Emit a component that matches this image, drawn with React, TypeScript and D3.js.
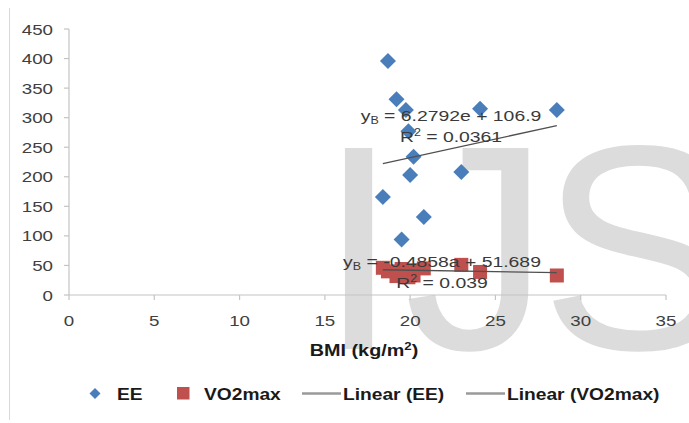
import React from 'react';
import * as d3 from 'd3';

// BMI (kg/m2) per subject, EE and VO2max values
const bmi = [18.7, 19.2, 19.75, 19.9, 20.2, 20.0, 23.0, 18.4, 20.8, 19.5, 24.1, 28.6];
const ee = [396, 331, 313, 277, 234, 203, 208, 166, 132, 94, 315, 313];
const vo2 = [40, 32, 36, 30, 33, 42, 51, 46, 45, 44, 39, 33];

// trend line coefficients as printed on the chart
const eeFit = { slope: 6.2792, intercept: 106.9 };
const vo2Fit = { slope: -0.4858, intercept: 51.689 };

const xTicks = [0, 5, 10, 15, 20, 25, 30, 35];
const yTicks = [0, 50, 100, 150, 200, 250, 300, 350, 400, 450];

const FONT = '"Liberation Sans", Arial, sans-serif';
const BLUE = '#4a7ebb';
const RED = '#c0504d';
const AXIS = '#c4c4c4';

const T = ({ x, y, sx = 1.25, size = 15, anchor = 'start', weight = 'normal', fill = '#404040', children }: any) => (
  <text
    transform={`translate(${x},${y}) scale(${sx},1)`}
    fontFamily={FONT}
    fontSize={size}
    fontWeight={weight}
    textAnchor={anchor}
    fill={fill}
  >
    {children}
  </text>
);

export default function App() {
  const x = d3.scaleLinear().domain([0, 35]).range([69, 666]);
  const y = d3.scaleLinear().domain([0, 450]).range([295, 29]);

  const [xMin, xMax] = d3.extent(bmi) as [number, number];
  const fitLine = (f: { slope: number; intercept: number }) =>
    d3.line<number>().x(d => x(d)).y(d => y(f.slope * d + f.intercept))([xMin, xMax]) || '';

  const diamond = d3.symbol().type(d3.symbolSquare).size(128)() || '';

  return (
    <svg width={689} height={423} style={{ position: 'absolute', left: 0, top: 0, background: '#fff' }}>
      {/* watermark */}
      <g fill="#dcdcdc" fontFamily={FONT} fontSize={292}>
        <text x={318} y={349}>I</text>
        <text x={404} y={349}>J</text>
        <text x={540} y={349}>S</text>
      </g>

      <line x1={9.5} x2={9.5} y1={8} y2={420} stroke="#d9d9d9" strokeWidth={1} />

      {/* axes */}
      <g stroke={AXIS} strokeWidth={1.2}>
        <line x1={x(0)} x2={x(0)} y1={y(450)} y2={y(0)} />
        <line x1={x(0)} x2={x(35)} y1={y(0)} y2={y(0)} />
        {yTicks.map(t => (
          <line key={t} x1={x(0) - 5} x2={x(0)} y1={y(t)} y2={y(t)} />
        ))}
        {xTicks.map(t => (
          <line key={t} x1={x(t)} x2={x(t)} y1={y(0)} y2={y(0) + 5} />
        ))}
      </g>
      {yTicks.map(t => (
        <T key={t} x={53} y={y(t) + 5.5} anchor="end">{t}</T>
      ))}
      {xTicks.map(t => (
        <T key={t} x={x(t)} y={326} anchor="middle">{t}</T>
      ))}
      <T x={364} y={356} anchor="middle" weight="bold" size={16.5} sx={1.2} fill="#1a1a1a">
        BMI (kg/m<tspan fontSize={11} dy={-6}>2</tspan><tspan dy={6}>)</tspan>
      </T>

      {/* points */}
      {bmi.map((b, i) => (
        <path key={'e' + i} d={diamond} transform={`translate(${x(b)},${y(ee[i])}) rotate(45)`} fill={BLUE} />
      ))}
      {bmi.map((b, i) => (
        <rect key={'v' + i} x={x(b) - 7} y={y(vo2[i]) - 7} width={14} height={14} fill={RED} />
      ))}

      {/* trend lines */}
      <path d={fitLine(eeFit)} stroke="#505050" strokeWidth={1.3} fill="none" />
      <path d={fitLine(vo2Fit)} stroke="#505050" strokeWidth={1.3} fill="none" />

      {/* equation labels */}
      <T x={451} y={121} anchor="middle" fill="#3a3a3a" size={15.5}>
        y<tspan fontSize={10} dy={3}>B</tspan><tspan dy={-3}> = 6.2792e + 106.9</tspan>
      </T>
      <T x={451} y={142} anchor="middle" fill="#3a3a3a" size={15.5}>
        R<tspan fontSize={10} dy={-6}>2</tspan><tspan dy={6}> = 0.0361</tspan>
      </T>
      <T x={442} y={267} anchor="middle" fill="#3a3a3a" size={15.5}>
        y<tspan fontSize={10} dy={3}>B</tspan><tspan dy={-3}> = -0.4858a + 51.689</tspan>
      </T>
      <T x={442} y={288} anchor="middle" fill="#3a3a3a" size={15.5}>
        R<tspan fontSize={10} dy={-6}>2</tspan><tspan dy={6}> = 0.039</tspan>
      </T>

      {/* legend */}
      <path d={d3.symbol().type(d3.symbolSquare).size(60)() || ''} transform="translate(95,393.5) rotate(45)" fill={BLUE} />
      <T x={117} y={399.5} weight="bold" size={16} sx={1.2} fill="#1a1a1a">EE</T>
      <rect x={177} y={387} width={12.5} height={12.5} fill={RED} />
      <T x={204} y={399.5} weight="bold" size={16} sx={1.2} fill="#1a1a1a">VO2max</T>
      <line x1={302} x2={341} y1={393.5} y2={393.5} stroke="#9a9a9a" strokeWidth={2.5} />
      <T x={343} y={399.5} weight="bold" size={16} sx={1.2} fill="#1a1a1a">Linear (EE)</T>
      <line x1={466} x2={505} y1={393.5} y2={393.5} stroke="#9a9a9a" strokeWidth={2.5} />
      <T x={507} y={399.5} weight="bold" size={16} sx={1.2} fill="#1a1a1a">Linear (VO2max)</T>
    </svg>
  );
}
